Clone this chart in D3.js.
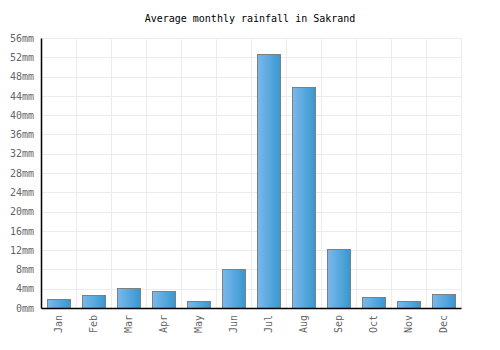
<!DOCTYPE html>
<html>
<head>
<meta charset="utf-8">
<script src="https://cdn.jsdelivr.net/npm/d3@7"></script>
<style>
  body { margin: 0; background: #fff; }
  svg text { font-family: "DejaVu Sans Mono", monospace; }
</style>
</head>
<body>
<div id="chart"></div>
<script>
// data
const months = ["Jan", "Feb", "Mar", "Apr", "May", "Jun", "Jul", "Aug", "Sep", "Oct", "Nov", "Dec"];
const rainfall = [1.9, 2.6, 4.1, 3.5, 1.4, 8.0, 52.6, 45.8, 12.2, 2.2, 1.4, 2.8];
const yTicks = [0, 4, 8, 12, 16, 20, 24, 28, 32, 36, 40, 44, 48, 52, 56];

const width = 500;
const height = 350;
const margin = { top: 38, right: 39, bottom: 42, left: 41 };

const svg = d3.select("#chart")
  .append("svg")
  .attr("width", width)
  .attr("height", height);

// gradient for bars
const grad = svg.append("defs")
  .append("linearGradient")
  .attr("id", "barGrad")
  .attr("x1", "0%").attr("x2", "100%")
  .attr("y1", "0%").attr("y2", "0%");
grad.append("stop").attr("offset", "0%").attr("stop-color", "#7ab9ec");
grad.append("stop").attr("offset", "100%").attr("stop-color", "#3797cf");

const x = d3.scaleBand()
  .domain(months)
  .range([margin.left, width - margin.right])
  .paddingInner(0.33)
  .paddingOuter(0.165);

const y = d3.scaleLinear()
  .domain([0, 56])
  .range([height - margin.bottom, margin.top]);

// title
svg.append("text")
  .attr("x", width / 2)
  .attr("y", 22)
  .attr("text-anchor", "middle")
  .style("font-size", "10px")
  .attr("fill", "#000")
  .text("Average monthly rainfall in Sakrand");

// grid
const grid = svg.append("g");
grid.selectAll("line.h")
  .data(yTicks)
  .enter()
  .append("line")
  .attr("x1", margin.left)
  .attr("x2", width - margin.right)
  .attr("y1", d => Math.round(y(d)) + 0.5)
  .attr("y2", d => Math.round(y(d)) + 0.5)
  .attr("stroke", "#ececec");

// vertical grid at band boundaries
const step = x.step();
grid.selectAll("line.v")
  .data(months.slice(1).concat(["end"]))
  .enter()
  .append("line")
  .attr("x1", (d, i) => Math.round(margin.left + step * (i + 1)) + 0.5)
  .attr("x2", (d, i) => Math.round(margin.left + step * (i + 1)) + 0.5)
  .attr("y1", margin.top)
  .attr("y2", height - margin.bottom)
  .attr("stroke", "#ececec");

// bars
svg.selectAll("rect.bar")
  .data(rainfall)
  .enter()
  .append("rect")
  .attr("class", "bar")
  .attr("x", (d, i) => Math.round(x(months[i])) + 0.5)
  .attr("y", d => Math.round(y(d)) + 0.5)
  .attr("width", Math.round(x.bandwidth()))
  .attr("height", d => Math.round(y(0)) - Math.round(y(d)))
  .attr("fill", "url(#barGrad)")
  .attr("stroke", "#7f7f7f")
  .attr("stroke-width", 1);

// y axis
const yAxis = svg.append("g")
  .attr("transform", `translate(${margin.left},0)`)
  .call(d3.axisLeft(y).tickValues(yTicks).tickSize(0).tickPadding(7).tickFormat(d => d + "mm"));
yAxis.select(".domain").attr("stroke", "#000").attr("stroke-width", 1.5);
yAxis.selectAll("text")
  .style("font-size", "10px")
  .attr("fill", "#666");

// x axis
const xAxis = svg.append("g")
  .attr("transform", `translate(0,${height - margin.bottom})`)
  .call(d3.axisBottom(x).tickSize(0).tickPadding(0));
xAxis.select(".domain").attr("stroke", "#000").attr("stroke-width", 1.5);
xAxis.selectAll("text")
  .style("font-size", "10px")
  .attr("fill", "#666")
  .attr("text-anchor", "end")
  .attr("dy", "0.35em")
  .attr("transform", "translate(0,7) rotate(-90)")
  .attr("x", 0)
  .attr("y", 0);
</script>
</body>
</html>
